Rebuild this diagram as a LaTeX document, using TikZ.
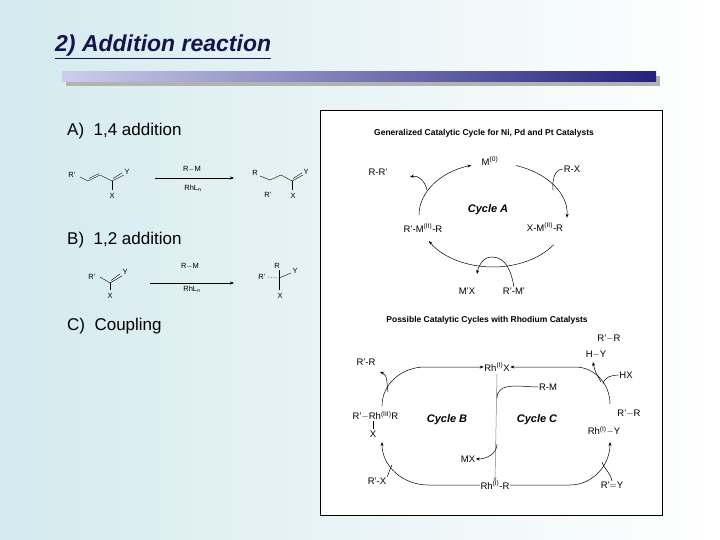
\documentclass[tikz,border=0pt]{standalone}
\usepackage{fontspec}
\setmainfont{Liberation Sans}
\usetikzlibrary{arrows.meta,calc}
\definecolor{bgl}{RGB}{212,234,238}
\definecolor{barl}{RGB}{205,205,235}
\definecolor{bard}{RGB}{35,35,125}
\newcommand{\sps}[1]{\textsuperscript{#1}}
\begin{document}
\begin{tikzpicture}[x=1pt,y=1pt,
  lab/.style={inner sep=0.5pt,font=\fontsize{9.5}{10}\selectfont},
  tiny/.style={inner sep=0.3pt,font=\fontsize{7.5}{8}\selectfont},
  cyc/.style={inner sep=1pt,font=\fontsize{11}{12}\selectfont\bfseries\itshape},
  hd/.style={inner sep=1pt,font=\fontsize{8.5}{10}\selectfont\bfseries},
  sec/.style={anchor=west,inner sep=0pt,font=\fontsize{17}{19}\selectfont},
  arr/.style={-{Stealth[length=4pt,width=3pt]},line width=0.5pt},
  ln/.style={line width=0.5pt},
  bd/.style={line width=0.4pt}]
\useasboundingbox (0,0) rectangle (720,-540);
\shade[left color=bgl,right color=white] (0,0) rectangle (720,-540);
% title
\node[anchor=west,inner sep=0pt,text=bard!60!black,font=\fontsize{23}{25}\selectfont\bfseries\itshape] (title) at (55,-47) {\underline{2) Addition reaction}};
\fill[gray!60] (66,-76) rectangle (660,-86);
\shade[left color=barl,right color=bard] (62,-72) rectangle (656,-82);
% left
\node[sec] (A) at (67,-131) {A)\ \ 1,4 addition};
\node[sec] (B) at (67,-240) {B)\ \ 1,2 addition};
\node[sec] (C) at (67,-326) {C)\ \ Coupling};
% A structures
\node[tiny] (a1) at (72,-175) {R'};
\draw[bd] (80,-177) -- (88,-181) -- (100,-175) -- (112,-181) -- (124,-175);
\draw[bd] (89,-178.5) -- (99,-173.5);
\draw[bd] (113,-178.5) -- (122,-173);
\draw[bd] (112,-181) -- (112,-190);
\node[tiny] (a2) at (127,-172) {Y};
\node[tiny] (a3) at (112,-196) {X};
\draw[arr,line width=0.4pt] (155,-178) -- (234,-178);
\node[tiny] (a4) at (192,-169) {R$-$M};
\node[tiny] (a5) at (193,-188) {RhL\textsubscript{n}};
\node[tiny] (a6) at (255,-173) {R};
\draw[bd] (260,-176) -- (270,-180) -- (281,-175) -- (292,-181) -- (303,-175);
\draw[bd] (293,-178.5) -- (302,-173);
\draw[bd] (292,-181) -- (292,-190);
\node[tiny] (a7) at (306,-172) {Y};
\node[tiny] (a8) at (293,-196) {X};
\node[tiny] (a9) at (268,-195) {R'};
% B structures
\node[tiny] (b1) at (92,-277) {R'};
\draw[bd] (100,-277) -- (110,-283) -- (122,-276);
\draw[bd] (111,-280.5) -- (120,-274);
\draw[bd] (110,-283) -- (110,-290);
\node[tiny] (b2) at (125,-272) {Y};
\node[tiny] (b3) at (110,-296) {X};
\draw[arr,line width=0.4pt] (150,-283) -- (234,-283);
\node[tiny] (b4) at (190,-266) {R$-$M};
\node[tiny] (b5) at (192,-289) {RhL\textsubscript{n}};
\node[tiny] (b6) at (277,-266) {R};
\node[tiny] (b7) at (262,-277) {R'};
\node[tiny] (b8) at (295,-271) {Y};
\node[tiny] (b9) at (280,-296) {X};
\draw[bd] (279,-278) -- (279,-270);
\draw[bd] (279,-278) -- (291,-273);
\draw[bd] (279,-278) -- (279,-290);
\draw[bd,densely dotted] (267,-277) -- (279,-278);
% right box
\draw[fill=white,line width=0.6pt] (320,-110) rectangle (662,-515);
\node[hd] (h1) at (484,-133) {Generalized Catalytic Cycle for Ni, Pd and Pt Catalysts};
\coordinate (cA) at (493,-215);
\node[lab] (m0) at (490,-161) {M\sps{(0)}};
\node[lab] (rr) at (378,-172) {R-R'};
\node[lab] (rx) at (572,-169) {R-X};
\node[cyc] (cy) at (488,-210) {Cycle A};
\node[lab] (xm) at (545,-227) {X-M\sps{(II)}-R};
\node[lab] (rm) at (423,-228) {R'-M\sps{(II)}-R};
\node[lab] (mx) at (467,-291) {M'X};
\node[lab] (rmp) at (514,-291) {R'-M'};
\draw[arr] (cA) ++(180:74 and 52) arc[start angle=180,end angle=107,x radius=74,y radius=52];
\draw[arr] (cA) ++(72:74 and 52) arc[start angle=72,end angle=-3,x radius=74,y radius=52];
\draw[arr] (cA) ++(-35:74 and 52) arc[start angle=-35,end angle=-150,x radius=74,y radius=52];
\draw[arr] (427,-190) to[out=100,in=15] (410,-177);
\draw[ln] (rx.west) to[out=180,in=95] (553,-190);
\draw[arr] (rmp.north) to[out=100,in=0] (492,-257) to[out=180,in=80] (477,-274);
% rhodium
\node[hd] (h2) at (487,-320) {Possible Catalytic Cycles with Rhodium Catalysts};
\node[lab] (rhx) at (497,-367) {Rh\sps{(I)}X};
\node[lab] (rhr) at (495,-485) {Rh\sps{(I)}-R};
\node[lab] (rrl) at (366,-362) {R'-R};
\node[lab] (rrt) at (609,-339) {R'$-$R};
\node[lab] (hy) at (596,-355) {H$-$Y};
\node[lab] (hx) at (626,-375) {HX};
\node[lab] (rmr) at (548,-387) {R-M};
\node[lab,anchor=west] (rh3) at (352,-416) {R'$-$Rh\sps{(III)}R};
\node[lab] (x3) at (373,-434) {X};
\draw[bd] (373,-421) -- (373,-429);
\node[cyc] (cb) at (447,-420) {Cycle B};
\node[cyc] (cc) at (537,-420) {Cycle C};
\node[lab] (rrr) at (629,-414) {R'$-$R};
\node[lab] (rhy) at (604,-431) {Rh\sps{(I)}$-$Y};
\node[lab] (mxr) at (468,-459) {MX};
\node[lab] (rxl) at (377,-481) {R'-X};
\node[lab] (ry) at (612,-485) {R'$=$Y};
\draw[arr] (382,-406) to[out=90,in=180] (425,-367) -- (rhx.west);
\draw[arr] (610,-404) to[out=90,in=0] (575,-367) -- (rhx.east);
\draw[arr] (rhr.west) -- (428,-485) to[out=180,in=-90] (382,-442);
\draw[arr] (rhr.east) -- (570,-485) to[out=0,in=-90] (610,-442);
\draw[arr,gray] ($(rhx.south)+(0,-2)$) -- ($(rhr.north)+(0,-1)$);
\draw[ln] (rmr.west) to[out=180,in=90] (497,-398);
\draw[arr] (497,-444) to[out=-90,in=0] (mxr.east);
\draw[arr] (388,-392) to[out=100,in=-20] (380,-372);
\draw[ln] (rxl.north east) to[out=60,in=-120] (392,-465);
\draw[arr] (601,-382) to[out=120,in=-80] (593,-362);
\draw[ln] (hx.west) to[out=180,in=80] (603,-384);
\draw[ln] (ry.north) to[out=100,in=-70] (602,-462);
\end{tikzpicture}
\end{document}
